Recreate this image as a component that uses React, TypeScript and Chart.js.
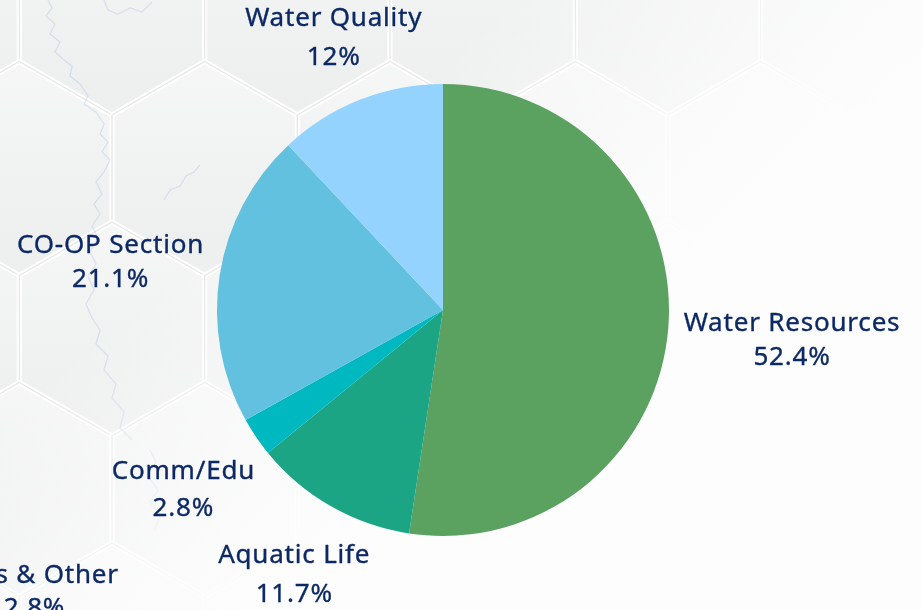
import React, { useEffect, useRef } from "react";
import { Chart, registerables } from "chart.js";

Chart.register(...registerables);

// ---- data ----
const categories = [
  "Water Resources",
  "Aquatic Life",
  "Comm/Edu",
  "Fees & Other",
  "CO-OP Section",
  "Water Quality",
];
const shares = [52.4, 11.7, 2.8, 2.8, 21.1, 12];
const sliceColors = ["#5ba160", "#1ba585", "#00b8c0", "#7fb0a0", "#62c1de", "#94d3fe"];
const hiddenCategories = ["Fees & Other"];

// ---- style ----
const LABEL_FONT = '26px "Noto Sans"';
const LABEL_COLOR = "#0c2966";
const LINE_H = 33;
const LINE_H_EXTRA = 7;
const LABEL_OFFSET = 14;
const LABEL_BLOCK_H = 52;
const LABEL_SHIFT_Y = 4;
const STACK_GAP = 180;

const backgroundPlugin = {
  id: "hexBackground",
  beforeDraw(chart: any) {
    const ctx = chart.ctx as CanvasRenderingContext2D;
    const W = chart.width;
    const H = chart.height;
    ctx.save();
    ctx.fillStyle = "#f1f2f2";
    ctx.fillRect(0, 0, W, H);

    const s = 107;
    const hw = (s * Math.sqrt(3)) / 2;
    for (let r = -1; r < 6; r++) {
      const cy = 8 + r * 1.5 * s;
      const x0 = r % 2 === 0 ? 112 : 112 - hw;
      for (let k = -2; k < 7; k++) {
        const cx = x0 + k * 2 * hw;
        const pts: [number, number][] = [];
        for (let j = 0; j < 6; j++) {
          const a = ((-90 + j * 60) * Math.PI) / 180;
          pts.push([cx + s * Math.cos(a), cy + s * Math.sin(a)]);
        }
        const g = ctx.createLinearGradient(cx, cy - s, cx, cy + s);
        g.addColorStop(0, "rgba(255,255,255,0.35)");
        g.addColorStop(1, "rgba(225,228,228,0.25)");
        ctx.beginPath();
        pts.forEach((p, i) => (i ? ctx.lineTo(p[0], p[1]) : ctx.moveTo(p[0], p[1])));
        ctx.closePath();
        ctx.fillStyle = g;
        ctx.fill();
        ctx.lineWidth = 5;
        ctx.strokeStyle = "rgba(255,255,255,0.85)";
        ctx.stroke();
        ctx.lineWidth = 1.2;
        ctx.strokeStyle = "rgba(205,208,208,0.5)";
        ctx.stroke();
      }
    }

    // faint river lines
    ctx.strokeStyle = "rgba(165,182,222,0.32)";
    ctx.lineWidth = 1.3;
    const rivers: [number, number][][] = [
      [[48, 0], [52, 8], [46, 16], [55, 24], [50, 34], [60, 42], [55, 52], [64, 60], [72, 66], [70, 76], [80, 84], [88, 96], [84, 104], [96, 112], [104, 124], [100, 134], [108, 142], [102, 152], [110, 160], [104, 172], [96, 182], [102, 194], [94, 204], [100, 214]],
      [[104, 0], [108, 10], [118, 14], [130, 8], [142, 12], [152, 2]],
      [[100, 214], [92, 226], [98, 238], [90, 252], [96, 264], [88, 276], [94, 290], [86, 304], [92, 318], [100, 330], [96, 344], [108, 356], [104, 370], [116, 384], [112, 398], [124, 412], [120, 428], [132, 440]],
      [[200, 165], [194, 172], [186, 176], [180, 186], [170, 190], [164, 200]],
      [[150, 450], [156, 462], [148, 476], [158, 490], [150, 502], [160, 516], [154, 530]],
    ];
    rivers.forEach((pts) => {
      ctx.beginPath();
      pts.forEach((p, i) => (i ? ctx.lineTo(p[0], p[1]) : ctx.moveTo(p[0], p[1])));
      ctx.stroke();
    });

    // white fade toward right / bottom right
    const gr = ctx.createLinearGradient(560, -40, 770, 220);
    gr.addColorStop(0, "rgba(253,253,253,0)");
    gr.addColorStop(0.72, "rgba(253,253,253,0.85)");
    gr.addColorStop(1, "rgba(253,253,253,1)");
    ctx.fillStyle = gr;
    ctx.fillRect(0, 0, W, H);
    ctx.restore();
  },
};

const outLabelPlugin = {
  id: "outLabels",
  afterDatasetsDraw(chart: any) {
    const ctx = chart.ctx as CanvasRenderingContext2D;
    const meta = chart.getDatasetMeta(0);
    ctx.save();
    ctx.font = LABEL_FONT;
    (ctx as any).letterSpacing = "0.8px";
    ctx.fillStyle = LABEL_COLOR;
    ctx.strokeStyle = LABEL_COLOR;
    ctx.lineWidth = 0.35;
    ctx.lineJoin = "round";
    ctx.textAlign = "center";
    ctx.textBaseline = "middle";
    let prev: { dx: number; dy: number; dist: number } | null = null;
    meta.data.forEach((arc: any, i: number) => {
      const p = arc.getProps(["x", "y", "startAngle", "endAngle", "outerRadius"], true);
      const lines = [categories[i], `${shares[i]}%`];
      const w = Math.max(...lines.map((t) => ctx.measureText(t).width));
      let dx: number, dy: number, dist: number, lh: number;
      if (p.endAngle - p.startAngle < 1e-6 && prev) {
        dx = prev.dx;
        dy = prev.dy;
        dist = prev.dist + STACK_GAP;
        lh = LINE_H;
      } else {
        const mid = (p.startAngle + p.endAngle) / 2;
        dx = Math.cos(mid);
        dy = Math.sin(mid);
        dist = p.outerRadius + LABEL_OFFSET + (w / 2) * Math.abs(dx) + (LABEL_BLOCK_H / 2) * Math.abs(dy);
        lh = LINE_H + LINE_H_EXTRA * Math.abs(dy);
      }
      const cx = p.x + dx * dist;
      const cy = p.y + dy * dist + LABEL_SHIFT_Y;
      [lines[0], lines[1]].forEach((t, li) => {
        const ty = cy + (li === 0 ? -lh / 2 : lh / 2);
        ctx.fillText(t, cx, ty);
        ctx.strokeText(t, cx, ty);
      });
      prev = { dx, dy, dist };
    });
    ctx.restore();
  },
};

export default function App() {
  const ref = useRef<HTMLCanvasElement | null>(null);
  useEffect(() => {
    document.body.style.margin = "0";
    const canvas = ref.current!;
    const chart = new Chart(canvas, {
      type: "pie",
      data: {
        labels: categories,
        datasets: [
          {
            data: shares,
            backgroundColor: sliceColors,
            borderWidth: 0,
          },
        ],
      },
      options: {
        responsive: false,
        animation: false,
        layout: { padding: { left: 217, right: 253, top: 84, bottom: 74 } },
        plugins: {
          legend: { display: false },
          tooltip: { enabled: false },
        },
      },
      plugins: [backgroundPlugin, outLabelPlugin],
    });
    categories.forEach((c, i) => {
      if (hiddenCategories.includes(c)) chart.toggleDataVisibility(i);
    });
    chart.update();
    return () => chart.destroy();
  }, []);
  return <canvas ref={ref} width={922} height={610} style={{ display: "block" }} />;
}
